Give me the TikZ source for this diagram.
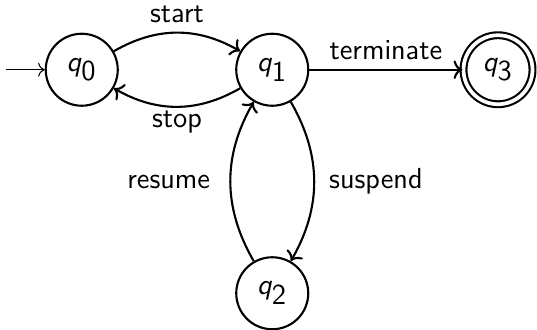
\documentclass[tikz,border=0pt]{standalone}
\usetikzlibrary{automata,arrows.meta}

\newcommand{\qs}[1]{$\textit{q}_{\textsf{#1}}$}

\begin{document}
\begin{tikzpicture}[
  font=\sffamily\fontsize{11}{13}\selectfont,
  every state/.style={draw, circle, thick, minimum size=0.96cm, inner sep=0pt},
  accepting/.style={double, double distance=1.4pt, minimum size=0.92cm},
  trans/.style={->, thick},
  entry/.style={->, thin},
]
\useasboundingbox (0,0) rectangle (7.16,-4.40);

% states
\node[state] (q0) at (1.09, -0.93) {\qs{0}};
\node[state] (q1) at (3.63, -0.93) {\qs{1}};
\node[state, accepting] (q3) at (6.64, -0.93) {\qs{3}};
\node[state] (q2) at (3.63, -3.91) {\qs{2}};

% initial arrow
\coordinate (in) at (0.08, -0.93);
\draw[entry] (in) -- (q0);

% transitions
\draw[trans] (q0) to[bend left=30] node[above] {start} (q1);
\draw[trans] (q1) to[bend left=30] node[below, yshift=2pt] {stop} (q0);
\draw[trans] (q1) -- node[above] {terminate} (q3);
\draw[trans] (q1) to[bend left=30] node[right, xshift=2pt] {suspend} (q2);
\draw[trans] (q2) to[bend left=30] node[left, xshift=-4pt] {resume} (q1);

\end{tikzpicture}
\end{document}
